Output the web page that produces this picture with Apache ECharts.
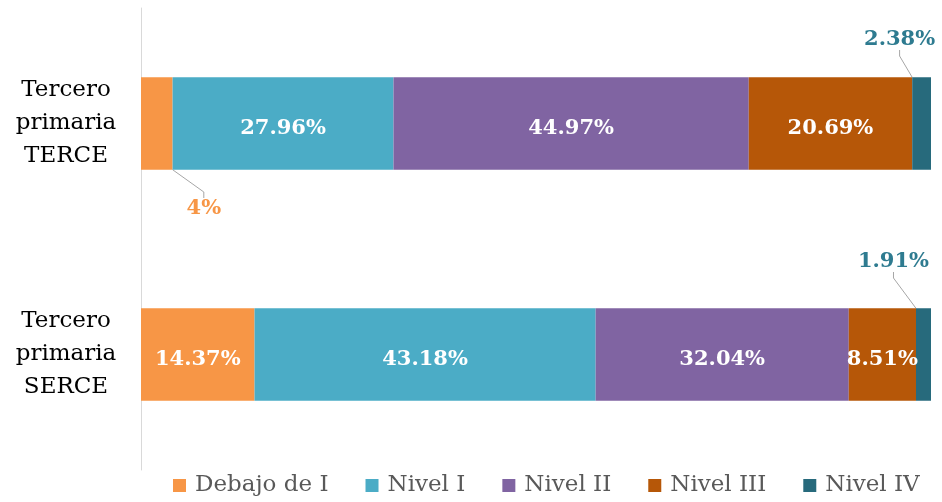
<!DOCTYPE html>
<html><head><meta charset="utf-8">
<script src="https://cdn.jsdelivr.net/npm/echarts@6/dist/echarts.min.js"></script>
<style>html,body{margin:0;padding:0;background:#fff}#c{width:942px;height:502px}</style>
</head><body><div id="c"></div>
<script>
const categories = ['Tercero\nprimaria\nTERCE', 'Tercero\nprimaria\nSERCE'];
const seriesNames = ['Debajo de I', 'Nivel I', 'Nivel II', 'Nivel III', 'Nivel IV'];
const debajoI = [4, 14.37];
const nivelI = [27.96, 43.18];
const nivelII = [44.97, 32.04];
const nivelIII = [20.69, 8.51];
const nivelIV = [2.38, 1.91];
const colors = ['#F79646', '#4BACC6', '#8064A2', '#B65708', '#276A7C'];

const FONT = '"DejaVu Serif", "Liberation Serif", serif';
const allValues = [debajoI, nivelI, nivelII, nivelIII, nivelIV];
// outside label offsets per [series][dataIndex]
const outside = {
  '0-0': {dx: 47, dy: 85, color: '#F79646'},
  '4-0': {dx: -22, dy: -84, color: '#2E7B90'},
  '4-1': {dx: -30, dy: -93, color: '#2E7B90'}
};
function fmt(v){ return (Math.round(v*100)/100) + '%'; }

const series = allValues.map((vals, si) => ({
  name: seriesNames[si],
  type: 'bar',
  stack: 'total',
  barWidth: '40%',
  itemStyle: {color: colors[si]},
  label: {
    show: true, position: 'inside', color: '#fff',
    fontFamily: FONT, fontWeight: 'bold', fontSize: 21,
    formatter: p => fmt(p.value)
  },
  labelLayout: function(p){
    const o = outside[si + '-' + p.dataIndex];
    return o ? {dx: o.dx, dy: o.dy} : {dy: 5};
  },
  data: vals.map((v, di) => {
    const o = outside[si + '-' + di];
    if (!o) return {value: v};
    return {
      value: v,
      label: {color: o.color},
      labelLine: {show: true, length2: 6, lineStyle: {color: '#A6A6A6', width: 1}}
    };
  })
}));

const chart = echarts.init(document.getElementById('c'));
chart.setOption({
  animation: false,
  color: colors,
  grid: {left: 141, right: 11, top: 8, bottom: 32},
  xAxis: {type: 'value', min: 0, max: 100, show: false},
  yAxis: {
    type: 'category', data: categories, inverse: true,
    axisLine: {show: true, lineStyle: {color: '#D9D9D9', width: 1}},
    axisTick: {show: false},
    axisLabel: {
      color: '#000', fontFamily: FONT, fontSize: 23, lineHeight: 33,
      align: 'center', margin: 75, padding: [6, 0, 0, 0]
    }
  },
  legend: {
    bottom: 0, left: 168, itemWidth: 13, itemHeight: 13, itemGap: 37,
    icon: 'rect',
    textStyle: {color: '#595959', fontFamily: FONT, fontSize: 23, padding: [0, 0, 0, 4]}
  },
  series: series
});
</script></body></html>
